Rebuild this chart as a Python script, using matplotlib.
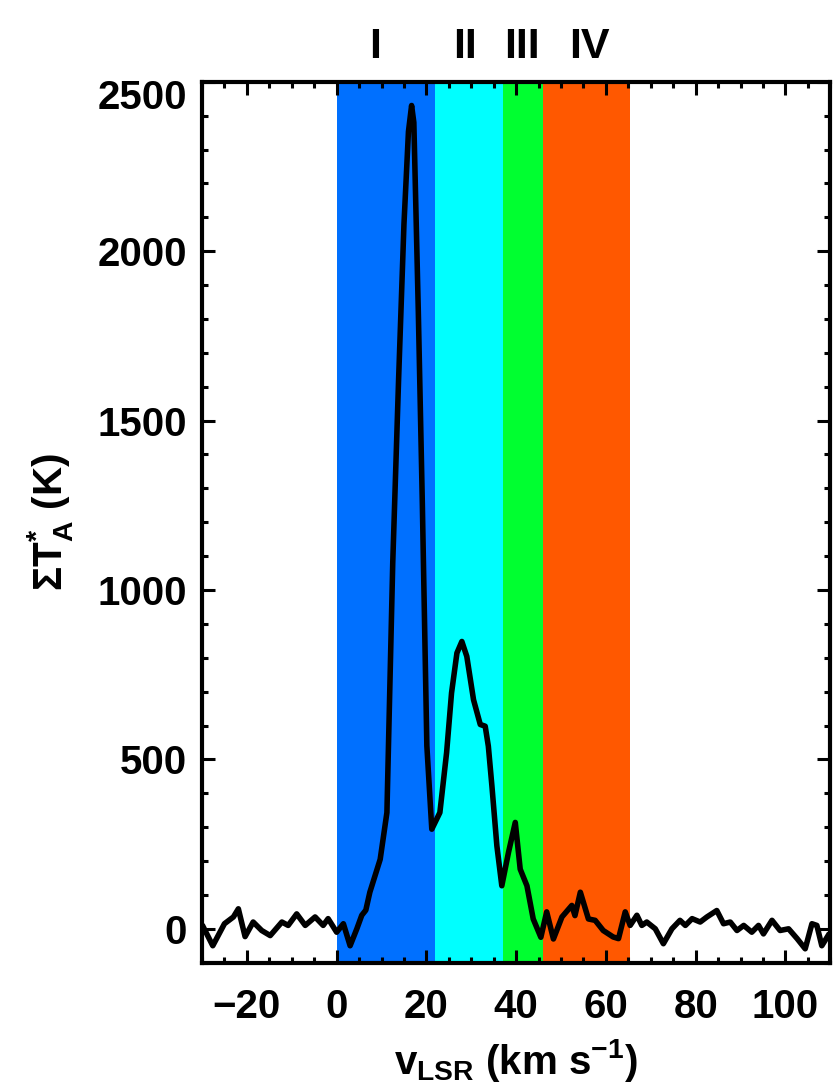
import matplotlib
matplotlib.use("Agg")
import matplotlib.pyplot as plt
from matplotlib.ticker import MultipleLocator
from matplotlib.transforms import ScaledTranslation

# Жирный гротеск для всех подписей
plt.rcParams['font.family'] = ['Liberation Sans', 'DejaVu Sans']
plt.rcParams['font.weight'] = 'bold'
plt.rcParams['axes.labelweight'] = 'bold'
plt.rcParams['mathtext.fontset'] = 'custom'
plt.rcParams['mathtext.rm'] = 'Liberation Sans:bold'
plt.rcParams['mathtext.it'] = 'Liberation Sans:bold'
plt.rcParams['mathtext.bf'] = 'Liberation Sans:bold'
plt.rcParams['mathtext.default'] = 'rm'

# Суммарный спектр: скорость (км/с) и ΣT*A (K)
velocity = [-29.7, -27.6, -25.0, -23.0, -21.9, -20.4, -18.6, -16.7, -14.8, -12.2,
            -10.8, -8.9, -7.0, -4.8, -3.0, -1.9, 0.0, 1.5, 3.0, 4.5,
            5.6, 6.5, 7.4, 9.7, 11.2, 12.5, 13.8, 15.0, 16.0, 16.7,
            17.2, 18.2, 19.1, 20.1, 21.2, 23.0, 24.5, 25.6, 26.8, 27.9,
            29.0, 30.5, 32.0, 33.1, 33.8, 34.6, 35.7, 36.8, 38.3, 39.8,
            40.9, 42.4, 43.8, 45.5, 46.8, 48.3, 50.2, 52.4, 53.1, 54.3,
            56.1, 57.6, 59.4, 61.6, 62.8, 64.3, 65.4, 66.9, 68.0, 69.1,
            71.0, 72.8, 74.7, 76.5, 77.7, 79.2, 81.0, 82.5, 84.7, 86.2,
            87.7, 89.2, 90.7, 92.5, 94.0, 95.1, 97.0, 98.8, 100.7, 102.6,
            104.4, 105.9, 107.0, 108.1, 109.5]
intensity = [5, -50, 15, 35, 59, -23, 20, -5, -20, 20,
             10, 44, 10, 35, 10, 30, -10, 15, -50, 0,
             40, 55, 108, 205, 343, 1080, 1620, 2080, 2353, 2430,
             2380, 1820, 1250, 540, 294, 343, 520, 696, 814, 848,
             804, 676, 603, 598, 539, 421, 245, 127, 226, 314,
             176, 127, 29, -25, 50, -30, 35, 69, 39, 108,
             29, 25, -5, -24, -29, 50, 10, 40, 10, 20,
             0, -44, 0, 25, 10, 30, 20, 35, 54, 15,
             20, -5, 10, -10, 10, -15, 25, -5, 0, -29,
             -59, 15, 10, -50, -20]

# Скоростные компоненты
band_edges = [0.0, 22.0, 37.0, 46.0, 65.3]
band_names = ['I', 'II', 'III', 'IV']
band_colors = ['#0070FF', '#00FFFF', '#00FF30', '#FF5800']
name_x = [8.5, 28.5, 41.3, 56.3]

fig = plt.figure(figsize=(8.33, 10.9), dpi=100)
ax = fig.add_axes([0.2425, 0.1168, 0.7543, 0.8082])

for lo, hi, c in zip(band_edges[:-1], band_edges[1:], band_colors):
    ax.axvspan(lo, hi, color=c, lw=0, zorder=0)

ax.plot(velocity, intensity, color='black', lw=4, zorder=2)

for x, name in zip(name_x, band_names):
    ax.text(x, 1.017, name, transform=ax.get_xaxis_transform(),
            ha='center', va='bottom', fontsize=31, fontweight='bold')

ax.set_xlim(-30, 110)
ax.set_ylim(-100, 2500)
ax.set_xticks([-20, 0, 20, 40, 60, 80, 100])
ax.set_yticks([0, 500, 1000, 1500, 2000, 2500])
ax.xaxis.set_minor_locator(MultipleLocator(5))
ax.yaxis.set_minor_locator(MultipleLocator(100))
ax.tick_params(which='both', direction='in', top=True, right=True,
               labelsize=29, width=2.2)
ax.tick_params(axis='x', which='major', length=9.5, pad=18)
ax.tick_params(axis='y', which='major', length=9.5, pad=11)
ax.tick_params(which='minor', length=4.5)
for sp in ax.spines.values():
    sp.set_linewidth(3)

# верхняя подпись оси y опущена внутрь рамки
top_lbl = ax.yaxis.get_major_ticks()[-1].label1
top_lbl.set_transform(top_lbl.get_transform() + ScaledTranslation(0, -0.12, fig.dpi_scale_trans))

ax.set_xlabel(r'v$_{\rm LSR}$ (km s$^{-1}$)', fontsize=29, labelpad=8)
ax.set_ylabel(r'$\Sigma$T$^{*}_{\rm A}$ (K)', fontsize=29, labelpad=16)

fig.savefig('out.png', dpi=100)
